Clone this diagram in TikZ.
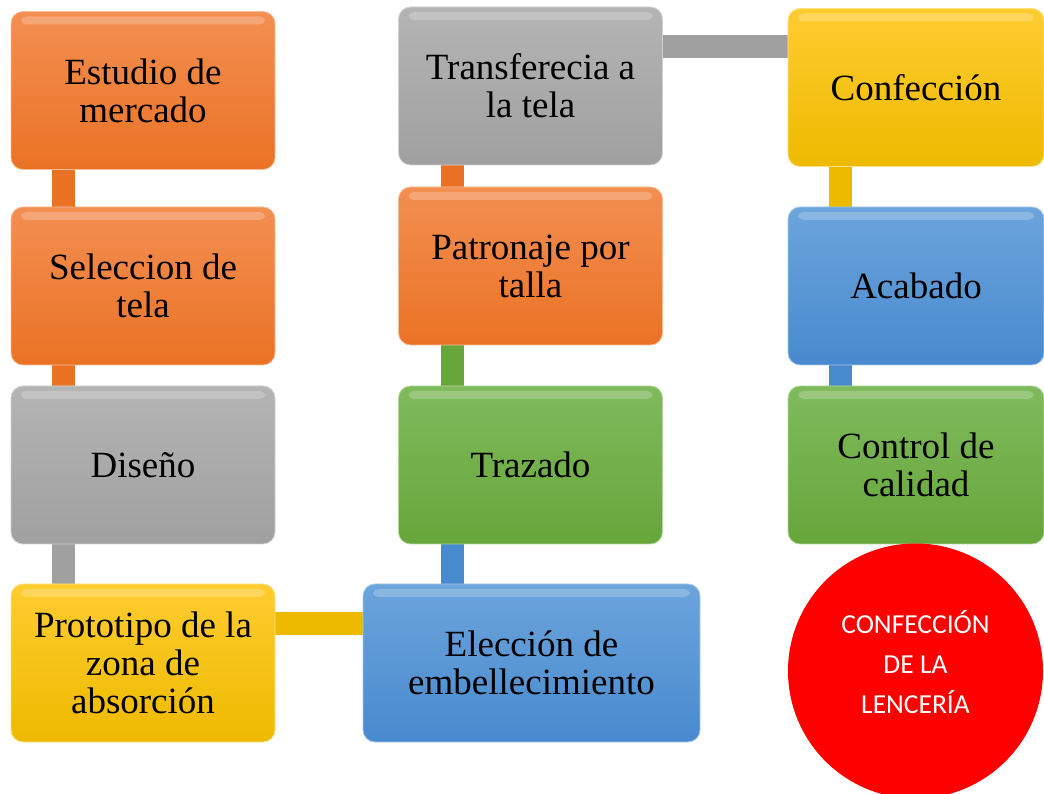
\documentclass[tikz,border=0pt]{standalone}
\usepackage{fontspec}
\setmainfont{Liberation Serif}
\newfontfamily\circfont{Carlito}
\usepackage{tikz}
\usetikzlibrary{backgrounds}
\definecolor{box_orange}{RGB}{234,114,36}
\definecolor{box_orange_top}{RGB}{243,143,82}
\definecolor{box_gray}{RGB}{160,160,160}
\definecolor{box_gray_top}{RGB}{180,180,180}
\definecolor{box_yellow}{RGB}{238,186,0}
\definecolor{box_yellow_top}{RGB}{255,204,48}
\definecolor{box_blue}{RGB}{72,138,206}
\definecolor{box_blue_top}{RGB}{108,164,220}
\definecolor{box_green}{RGB}{102,166,58}
\definecolor{box_green_top}{RGB}{128,186,92}

\begin{document}
\begin{tikzpicture}[x=1pt,y=1pt]
    \tikzstyle{stage}=[rounded corners=12pt, minimum width=264pt, minimum height=158pt,
      inner sep=0pt, align=center, text=black, line width=0.8pt,
      font=\fontsize{37}{38}\selectfont,
      path picture={\fill[white,opacity=0.22,rounded corners=5pt]
        ([xshift=10pt,yshift=-5pt]path picture bounding box.north west) rectangle
        ([xshift=-10pt,yshift=-13pt]path picture bounding box.north east);}]
    \tikzstyle{fill_orange}=[top color=box_orange_top, bottom color=box_orange, draw=box_orange_top!60!white]
    \tikzstyle{fill_gray}=[top color=box_gray_top, bottom color=box_gray, draw=box_gray_top!60!white]
    \tikzstyle{fill_yellow}=[top color=box_yellow_top, bottom color=box_yellow, draw=box_yellow_top!60!white]
    \tikzstyle{fill_blue}=[top color=box_blue_top, bottom color=box_blue, draw=box_blue_top!60!white]
    \tikzstyle{fill_green}=[top color=box_green_top, bottom color=box_green, draw=box_green_top!60!white]
    \tikzstyle{conn}=[line width=23pt]

    \useasboundingbox (0,0) rectangle (1044,793);

    % first column
    \node[stage,fill_orange] (est)  at (143,702.5) {Estudio de\\mercado};
    \node[stage,fill_orange] (sel)  at (143,507)   {Seleccion de\\tela};
    \node[stage,fill_gray]   (dis)  at (143,328)   {Diseño};
    \node[stage,fill_yellow] (pro)  at (143,130)   {Prototipo de la\\zona de\\absorción};
    % second column
    \node[stage,fill_blue,minimum width=337pt] (ele) at (531.5,130) {Elección de\\embellecimiento};
    \node[stage,fill_green]  (traz) at (530.5,328) {Trazado};
    \node[stage,fill_orange] (pat)  at (530.5,527) {Patronaje por\\talla};
    \node[stage,fill_gray]   (tra)  at (530.5,707) {Transferecia a\\la tela};
    % third column
    \node[stage,fill_yellow,minimum width=256pt] (conf) at (916,705.5) {Confección};
    \node[stage,fill_blue,minimum width=256pt]   (aca)  at (916,507)   {Acabado};
    \node[stage,fill_green,minimum width=256pt]  (ctl)  at (916,328)   {Control de\\calidad};

    \node[circle, fill=red, minimum size=255pt, inner sep=0pt,
      label={[text=white, align=center, yshift=9pt, font=\circfont\fontsize{27.5}{40}\selectfont]center:CONFECCIÓN\\DE LA\\LENCERÍA}]
      (title) at (915.5,122) {};

    \begin{scope}[on background layer]
    \path
     ([xshift=53pt]est.south west)  edge[conn,draw=box_orange] ([xshift=53pt]sel.north west)
     ([xshift=53pt]sel.south west)  edge[conn,draw=box_orange] ([xshift=53pt]dis.north west)
     ([xshift=53pt]dis.south west)  edge[conn,draw=box_gray]   ([xshift=53pt]pro.north west)
     ([yshift=-40pt]pro.north east) edge[conn,draw=box_yellow] ([yshift=-40pt]pro.north east -| ele.west)
     ([xshift=54pt]traz.south west |- ele.north) edge[conn,draw=box_blue] ([xshift=54pt]traz.south west)
     ([xshift=54pt]traz.north west) edge[conn,draw=box_green]  ([xshift=54pt]pat.south west)
     ([xshift=54pt]pat.north west)  edge[conn,draw=box_orange] ([xshift=54pt]tra.south west)
     ([yshift=-40pt]tra.north east) edge[conn,draw=box_gray]   ([yshift=-40pt]tra.north east -| conf.west)
     ([xshift=53pt]conf.south west) edge[conn,draw=box_yellow] ([xshift=53pt]aca.north west)
     ([xshift=53pt]aca.south west)  edge[conn,draw=box_blue]   ([xshift=53pt]ctl.north west)
     ;
    \end{scope}
\end{tikzpicture}
\end{document}
